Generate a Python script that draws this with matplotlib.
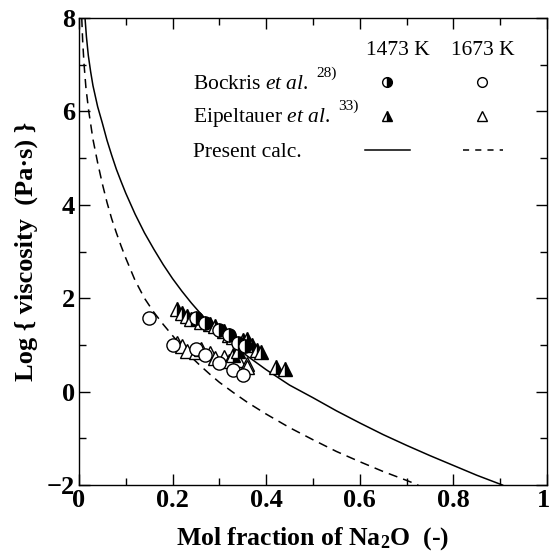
import matplotlib
matplotlib.use('Agg')
import matplotlib.pyplot as plt
import matplotlib.transforms as mtransforms
from matplotlib.ticker import MultipleLocator

plt.rcParams['font.family'] = 'Liberation Serif'
plt.rcParams['mathtext.fontset'] = 'custom'
plt.rcParams['mathtext.rm'] = 'Liberation Serif'
plt.rcParams['mathtext.it'] = 'Liberation Serif:italic'
plt.rcParams['mathtext.bf'] = 'Liberation Serif:bold'

# Bockris et al. (circles)
bock1473_x = [0.25, 0.27, 0.30, 0.32, 0.34, 0.355]
bock1473_y = [1.57, 1.47, 1.32, 1.22, 1.05, 0.98]
bock1673_x = [0.15, 0.20, 0.25, 0.27, 0.30, 0.33, 0.35]
bock1673_y = [1.58, 1.00, 0.92, 0.78, 0.62, 0.46, 0.36]

# Eipeltauer et al. (triangles)
eip1473_x = [0.21, 0.22, 0.23, 0.24, 0.26, 0.28, 0.29, 0.31, 0.32, 0.33,
             0.35, 0.36, 0.37, 0.38, 0.39, 0.33, 0.34, 0.42, 0.44]
eip1473_y = [1.78, 1.68, 1.62, 1.55, 1.50, 1.45, 1.40, 1.30, 1.22, 1.18,
             1.10, 1.12, 1.00, 0.90, 0.85, 0.78, 0.88, 0.52, 0.48]
eip1673_x = [0.21, 0.22, 0.23, 0.25, 0.26, 0.28, 0.29, 0.31, 0.32, 0.34, 0.36, 0.36]
eip1673_y = [1.05, 0.98, 0.88, 0.85, 0.92, 0.82, 0.72, 0.75, 0.65, 0.68, 0.60, 0.52]

# present calculation
calc1473_x = [0.013, 0.016, 0.02, 0.025, 0.03, 0.04, 0.05, 0.06, 0.07, 0.08, 0.09, 0.10,
              0.12, 0.14, 0.16, 0.18, 0.20, 0.22, 0.24, 0.26, 0.28, 0.30, 0.33, 0.36,
              0.40, 0.45, 0.50, 0.55, 0.60, 0.65, 0.70, 0.75, 0.80, 0.85, 0.905]
calc1473_y = [8.0, 7.6, 7.2, 6.85, 6.55, 6.1, 5.75, 5.38, 5.06, 4.76, 4.5, 4.25,
              3.8, 3.4, 3.05, 2.72, 2.42, 2.15, 1.9, 1.67, 1.46, 1.27, 1.0, 0.76,
              0.47, 0.14, -0.13, -0.41, -0.67, -0.92, -1.15, -1.37, -1.58, -1.79, -2.0]
calc1673_x = [0.006, 0.008, 0.011, 0.015, 0.021, 0.03, 0.04, 0.05, 0.06, 0.07, 0.08, 0.09,
              0.10, 0.12, 0.14, 0.16, 0.18, 0.20, 0.22, 0.24, 0.26, 0.28, 0.30, 0.33,
              0.36, 0.40, 0.45, 0.50, 0.55, 0.60, 0.65, 0.70, 0.725]
calc1673_y = [8.0, 7.5, 7.0, 6.5, 6.0, 5.4, 4.9, 4.45, 4.05, 3.7, 3.4, 3.12,
              2.86, 2.38, 2.0, 1.7, 1.44, 1.2, 0.96, 0.74, 0.55, 0.37, 0.2, -0.02,
              -0.23, -0.48, -0.77, -1.03, -1.28, -1.5, -1.71, -1.9, -2.0]

fig = plt.figure(figsize=(5.52, 5.55), dpi=100)
ax = fig.add_axes([0.143, 0.126, 0.848, 0.8416])

ax.plot(calc1473_x, calc1473_y, '-', color='k', lw=1.1)
ax.plot(calc1673_x, calc1673_y, '--', color='k', lw=1.1, dashes=(6, 4))

half = dict(color='k', markerfacecolor='k', markerfacecoloralt='w',
            fillstyle='right', markeredgecolor='k', markeredgewidth=1.0, ls='none')
opn = dict(color='k', markerfacecolor='w', markeredgecolor='k', markeredgewidth=1.0, ls='none')

ax.plot(eip1673_x, eip1673_y, '^', ms=10, **opn)
ax.plot(bock1673_x, bock1673_y, 'o', ms=9.5, **opn)
ax.plot(eip1473_x, eip1473_y, '^', ms=10, **half)
ax.plot(bock1473_x, bock1473_y, 'o', ms=9.5, **half)

# legend drawn by hand
fs = 15.5
ax.text(0.682, 7.31, '1473 K', ha='center', va='center', fontsize=fs)
ax.text(0.863, 7.31, '1673 K', ha='center', va='center', fontsize=fs)
ax.text(0.243, 6.57, r'Bockris $\mathit{et\ al.}$', ha='left', va='center', fontsize=fs)
ax.text(0.507, 6.82, '28)', ha='left', va='center', fontsize=11)
ax.text(0.243, 5.88, r'Eipeltauer $\mathit{et\ al.}$', ha='left', va='center', fontsize=fs)
ax.text(0.554, 6.12, '33)', ha='left', va='center', fontsize=11)
ax.text(0.243, 5.13, 'Present calc.', ha='left', va='center', fontsize=fs)
ax.plot([0.659], [6.63], 'o', ms=7, **half)
ax.plot([0.861], [6.63], 'o', ms=7, **opn)
ax.plot([0.659], [5.9], '^', ms=7.5, **half)
ax.plot([0.861], [5.9], '^', ms=7.5, **opn)
ax.plot([0.612, 0.708], [5.17, 5.17], '-', color='k', lw=1.1)
ax.plot([0.821, 0.906], [5.17, 5.17], '--', color='k', lw=1.1, dashes=(4, 4))

ax.set_xlim(0, 1)
ax.set_ylim(-2, 8)
ax.xaxis.set_major_locator(MultipleLocator(0.2))
ax.xaxis.set_minor_locator(MultipleLocator(0.1))
ax.yaxis.set_major_locator(MultipleLocator(2))
ax.yaxis.set_minor_locator(MultipleLocator(1))
ax.set_xticks([0, 0.2, 0.4, 0.6, 0.8, 1.0])
ax.set_xticklabels(['0', '0.2', '0.4', '0.6', '0.8', '1'])
ax.tick_params(which='both', direction='in', top=True, right=True, width=1.0)
ax.tick_params(which='major', length=8, labelsize=19, pad=3)
ax.tick_params(which='minor', length=5)
for lab in ax.get_xticklabels() + ax.get_yticklabels():
    lab.set_fontweight('bold')
# the last x label sits against the figure edge; nudge it left a little
last = ax.get_xticklabels()[-1]
last.set_transform(last.get_transform() + mtransforms.ScaledTranslation(-4 / 100, 0, fig.dpi_scale_trans))
for s in ax.spines.values():
    s.set_linewidth(1.0)

ax.set_xlabel(r'Mol fraction of Na$_{\mathbf{2}}$O  (-)', fontsize=18.5, fontweight='bold', labelpad=9)
ax.set_ylabel('Log { viscosity  (Pa·s) }', fontsize=19, fontweight='bold', labelpad=6)

fig.savefig('out.png', dpi=100)
